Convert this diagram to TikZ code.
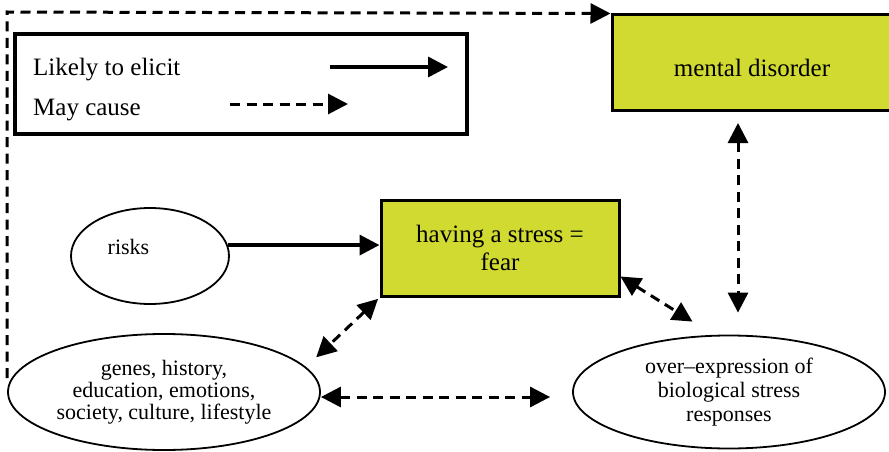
\documentclass[tikz,border=0pt]{standalone}
\usepackage{fontspec}
\setmainfont{Liberation Serif}
\usetikzlibrary{arrows.meta,shapes.geometric}
\definecolor{boxfill}{RGB}{209,218,48}
\begin{document}
\begin{tikzpicture}[x=1pt,y=-1pt,
  >={Triangle[length=20pt,width=20pt]},
  greenbox/.style={draw, line width=3pt, fill=boxfill, rectangle, inner sep=0pt},
  oval/.style={draw, line width=1.8pt, ellipse, inner sep=0pt, align=center},
  bigtxt/.style={font=\fontsize{25}{28}\selectfont},
  smalltxt/.style={font=\fontsize{22}{22}\selectfont},
  solidarrow/.style={line width=3.5pt, ->},
  dasharrow/.style={line width=3pt, dash pattern=on 10pt off 6.5pt, ->},
  dashboth/.style={line width=3pt, dash pattern=on 10pt off 6.5pt, <->},
]
\useasboundingbox (0,0) rectangle (889,452);

% legend
\node[draw, line width=3.3pt, minimum width=452pt, minimum height=100pt, inner sep=0pt] (legend) at (241,84) {};
\node[bigtxt, anchor=base west, inner sep=0pt] (lt1) at (33,76) {Likely to elicit};
\node[bigtxt, anchor=base west, inner sep=0pt] (lt2) at (33,115) {May cause};
\coordinate (la1) at (330,67);
\coordinate (la2) at (448,67);
\coordinate (lb1) at (230,104);
\coordinate (lb2) at (348,104);
\draw[solidarrow] (la1) -- (la2);
\draw[dasharrow] (lb1) -- (lb2);

% boxes
\node[greenbox, minimum width=280pt, minimum height=95pt,
      label={[bigtxt, yshift=-5pt]center:mental disorder}] (mental) at (752,62.5) {};
\node[greenbox, minimum width=238pt, minimum height=96pt, bigtxt, align=center] (stress) at (500,248) {having a stress =\\fear};

% ellipses
\node[oval, minimum width=158pt, minimum height=96pt,
      label={[smalltxt, xshift=-21.5pt, yshift=9pt]center:risks}] (risks) at (150,256) {};
\node[oval, smalltxt, minimum width=312pt, minimum height=116pt] (genes) at (164,392)
  {genes, history,\\education, emotions,\\society, culture, lifestyle};
\node[oval, font=\fontsize{22}{24}\selectfont, minimum width=312pt, minimum height=113pt] (over) at (729,392)
  {over–expression of\\biological stress\\responses};

% connectors
\coordinate (dstart) at (7,378);
\coordinate (dcorner) at (7,12);
\draw[dasharrow] (dstart) -- (dcorner) -- (mental.north west);
\draw[solidarrow] (risks.8) -- (risks.8 -| stress.west);
\draw[dashboth, shorten <=11.5pt, shorten >=22pt] ([xshift=-14pt]mental.south) -- ([xshift=9pt]over.north);
\draw[dashboth, shorten >=25pt] ([yshift=21pt]stress.south east) -- (over.105);
\draw[dashboth, shorten <=2pt, shorten >=14pt] (stress.south west) -- (genes.10);
\draw[dashboth, shorten >=22pt] ([yshift=-5pt]genes.east) -- ([yshift=-5pt]over.west);
\end{tikzpicture}
\end{document}
